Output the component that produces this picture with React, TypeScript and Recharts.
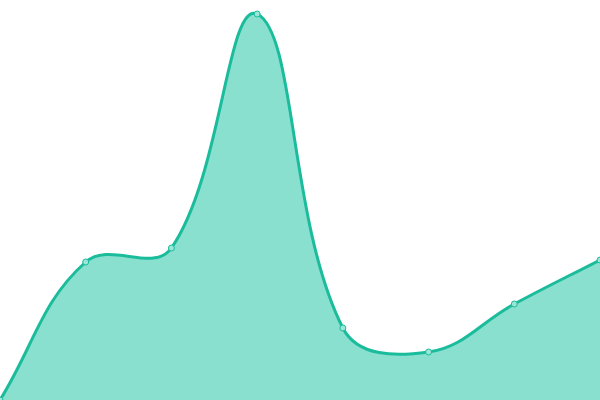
import { AreaChart, Area, XAxis, YAxis } from "recharts"

const labels = ["A", "B", "C", "D", "E", "F", "G", "H"]
const values = [0, 34.5, 38, 96.5, 18, 12, 24, 35]

const data = labels.map((name, i) => ({ name, value: values[i] }))

const TENSION = 0.4

// spline with distance-weighted control points (like chart.js tension)
function tensionCurve(context: any) {
  let xs: number[] = []
  let ys: number[] = []
  let line = NaN
  return {
    areaStart() {
      line = 0
    },
    areaEnd() {
      line = NaN
    },
    lineStart() {
      xs = []
      ys = []
    },
    point(x: number, y: number) {
      xs.push(+x)
      ys.push(+y)
    },
    lineEnd() {
      const n = xs.length
      if (n) {
        if (line) context.lineTo(xs[0], ys[0])
        else context.moveTo(xs[0], ys[0])
        const prevCp: [number, number][] = []
        const nextCp: [number, number][] = []
        for (let i = 0; i < n; i++) {
          const a = Math.max(i - 1, 0)
          const c = Math.min(i + 1, n - 1)
          const d01 = Math.hypot(xs[i] - xs[a], ys[i] - ys[a])
          const d12 = Math.hypot(xs[c] - xs[i], ys[c] - ys[i])
          let s01 = d01 / (d01 + d12)
          let s12 = d12 / (d01 + d12)
          if (isNaN(s01)) s01 = 0
          if (isNaN(s12)) s12 = 0
          const fa = TENSION * s01
          const fb = TENSION * s12
          const dx = xs[c] - xs[a]
          const dy = ys[c] - ys[a]
          prevCp.push([xs[i] - fa * dx, ys[i] - fa * dy])
          nextCp.push([xs[i] + fb * dx, ys[i] + fb * dy])
        }
        for (let i = 0; i < n - 1; i++) {
          context.bezierCurveTo(nextCp[i][0], nextCp[i][1], prevCp[i + 1][0], prevCp[i + 1][1], xs[i + 1], ys[i + 1])
        }
      }
      if (line || (line !== 0 && n === 1)) context.closePath()
      line = 1 - line
    },
  }
}

export default function App() {
  return (
    <div style={{ position: "absolute", top: 0, left: 0, width: 600, height: 400, background: "#fff" }}>
      <AreaChart width={600} height={400} data={data} margin={{ top: 0, right: 0, bottom: 0, left: 0 }}>
        <XAxis dataKey="name" hide />
        <YAxis domain={[0, 100]} hide />
        <Area
          type={tensionCurve as any}
          dataKey="value"
          stroke="#1abc9c"
          strokeWidth={3}
          fill="#8ae0cf"
          fillOpacity={1}
          dot={{ r: 3, fill: "#9de5d6", stroke: "#1abc9c", strokeWidth: 1 }}
          activeDot={false}
          isAnimationActive={false}
        />
      </AreaChart>
    </div>
  )
}
